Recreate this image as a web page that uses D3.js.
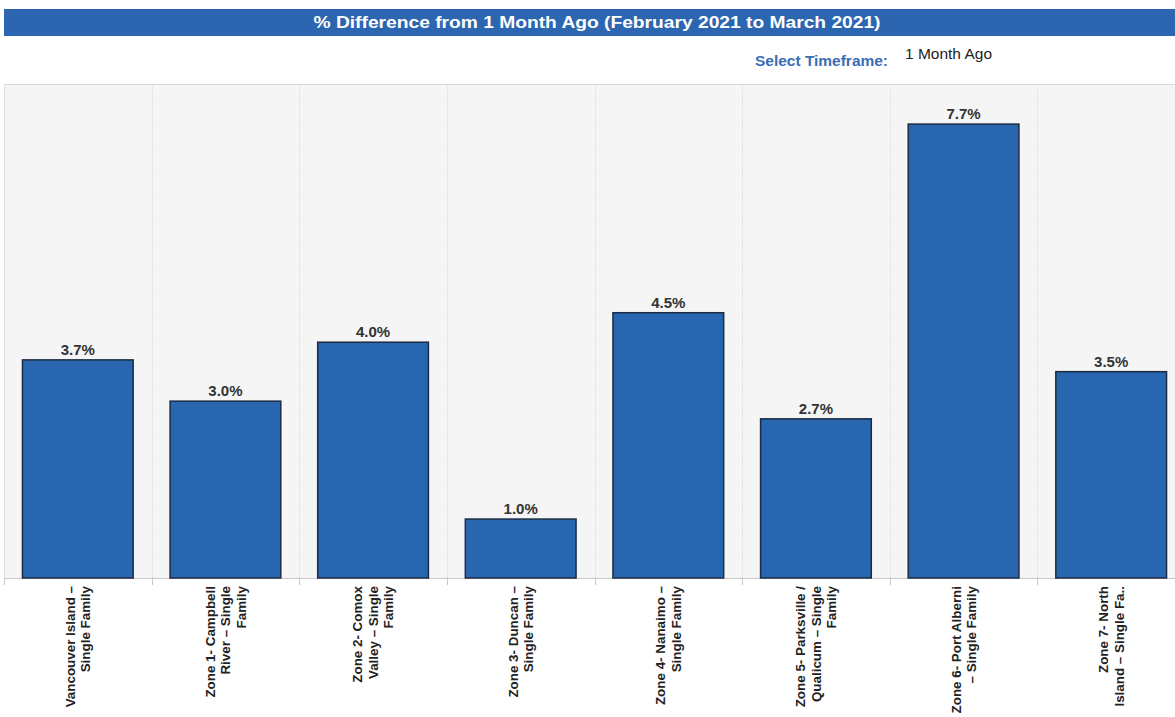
<!DOCTYPE html>
<html>
<head>
<meta charset="utf-8">
<script src="https://cdn.jsdelivr.net/npm/d3@7"></script>
<style>
  html, body { margin: 0; padding: 0; background: #ffffff; }
  svg { display: block; font-family: "Liberation Sans", Arial, sans-serif; }
</style>
</head>
<body>
<svg id="chart" width="1175" height="717"></svg>
<script>
// Regions (each label is pre-wrapped into display lines)
const categories = [
  "Vancouver Island – Single Family",
  "Zone 1- Campbell River – Single Family",
  "Zone 2- Comox Valley – Single Family",
  "Zone 3- Duncan – Single Family",
  "Zone 4- Nanaimo – Single Family",
  "Zone 5- Parksville / Qualicum – Single Family",
  "Zone 6- Port Alberni – Single Family",
  "Zone 7- North Island – Single Family"
];
const labelLines = [
  ["Vancouver Island –", "Single Family"],
  ["Zone 1- Campbell", "River – Single", "Family"],
  ["Zone 2- Comox", "Valley – Single", "Family"],
  ["Zone 3- Duncan –", "Single Family"],
  ["Zone 4- Nanaimo –", "Single Family"],
  ["Zone 5- Parksville /", "Qualicum – Single", "Family"],
  ["Zone 6- Port Alberni", "– Single Family"],
  ["Zone 7- North", "Island – Single Fa.."]
];
// % change, February 2021 to March 2021
const pctChange = [3.7, 3.0, 4.0, 1.0, 4.5, 2.7, 7.7, 3.5];

const titleText = "% Difference from 1 Month Ago (February 2021 to March 2021)";
const timeframeLabel = "Select Timeframe:";
const timeframeValue = "1 Month Ago";

const svg = d3.select("#chart");
const W = 1175;
const plot = { left: 4, right: 1185, top: 84, bottom: 578 };

// Header bar
svg.append("rect")
  .attr("x", 4).attr("y", 9).attr("width", W - 4).attr("height", 27)
  .attr("fill", "#2c66b1");
svg.append("text")
  .attr("x", 597).attr("y", 28)
  .attr("text-anchor", "middle")
  .attr("fill", "#ffffff")
  .attr("font-size", 16).attr("font-weight", "bold")
  .attr("textLength", 567).attr("lengthAdjust", "spacingAndGlyphs")
  .text(titleText);

// Timeframe selector
svg.append("text")
  .attr("x", 888).attr("y", 66)
  .attr("text-anchor", "end")
  .attr("fill", "#3a6db5")
  .attr("font-size", 14).attr("font-weight", "bold")
  .attr("textLength", 133).attr("lengthAdjust", "spacingAndGlyphs")
  .text(timeframeLabel);
svg.append("text")
  .attr("x", 905).attr("y", 59)
  .attr("fill", "#222")
  .attr("font-size", 14.5)
  .attr("textLength", 87).attr("lengthAdjust", "spacingAndGlyphs")
  .text(timeframeValue);

// Scales
const x = d3.scaleBand()
  .domain(categories)
  .range([plot.left, plot.right])
  .paddingInner(0.25)
  .paddingOuter(0.125);
const step = x.step();
const y = d3.scaleLinear().domain([0, 8.38]).range([plot.bottom, plot.top]);

// Plot background
svg.append("rect")
  .attr("x", plot.left).attr("y", plot.top)
  .attr("width", plot.right - plot.left).attr("height", plot.bottom - plot.top)
  .attr("fill", "#f5f5f5");
svg.append("line")
  .attr("x1", plot.left).attr("x2", W)
  .attr("y1", plot.top + 0.5).attr("y2", plot.top + 0.5)
  .attr("stroke", "#d9d9d9");
svg.append("line")
  .attr("x1", plot.left + 0.5).attr("x2", plot.left + 0.5)
  .attr("y1", plot.top).attr("y2", plot.bottom)
  .attr("stroke", "#dddddd");

// Band separators
const edges = categories.map(c => x(c) - step * 0.125);
svg.append("g").selectAll("line")
  .data(edges.slice(1))
  .join("line")
  .attr("x1", d => Math.round(d) + 0.5).attr("x2", d => Math.round(d) + 0.5)
  .attr("y1", plot.top).attr("y2", plot.bottom)
  .attr("stroke", "#e0e0e0")
  .attr("stroke-dasharray", "2,1");

// Baseline and ticks
svg.append("line")
  .attr("x1", plot.left).attr("x2", W)
  .attr("y1", plot.bottom + 0.5).attr("y2", plot.bottom + 0.5)
  .attr("stroke", "#c8c8c8");
svg.append("g").selectAll("line")
  .data(edges)
  .join("line")
  .attr("x1", d => Math.round(d) + 0.5).attr("x2", d => Math.round(d) + 0.5)
  .attr("y1", plot.bottom).attr("y2", plot.bottom + 7)
  .attr("stroke", "#c8c8c8");

// Bars
svg.append("g").selectAll("rect")
  .data(pctChange)
  .join("rect")
  .attr("x", (d, i) => x(categories[i]))
  .attr("y", d => y(d))
  .attr("width", x.bandwidth())
  .attr("height", d => y(0) - y(d))
  .attr("fill", "#2966b0")
  .attr("stroke", "#1c2b44")
  .attr("stroke-width", 1.5);

// Value labels
svg.append("g").selectAll("text")
  .data(pctChange)
  .join("text")
  .attr("x", (d, i) => x(categories[i]) + x.bandwidth() / 2)
  .attr("y", d => y(d) - 5)
  .attr("text-anchor", "middle")
  .attr("fill", "#333")
  .attr("font-size", 15).attr("font-weight", "bold")
  .text(d => d.toFixed(1) + "%");

// Rotated category labels
const lineGap = 15.5;
const lab = svg.append("g").selectAll("g")
  .data(labelLines)
  .join("g");
lab.each(function (lines, i) {
  const cx = x(categories[i]) + x.bandwidth() / 2;
  const n = lines.length;
  d3.select(this).selectAll("text")
    .data(lines)
    .join("text")
    .attr("transform", (t, j) => `translate(${cx + (j - (n - 1) / 2) * lineGap},586) rotate(-90)`)
    .attr("dy", "0.35em")
    .attr("text-anchor", "end")
    .attr("fill", "#222")
    .attr("font-size", 13.4).attr("font-weight", "bold")
    .text(t => t);
});
</script>
</body>
</html>
